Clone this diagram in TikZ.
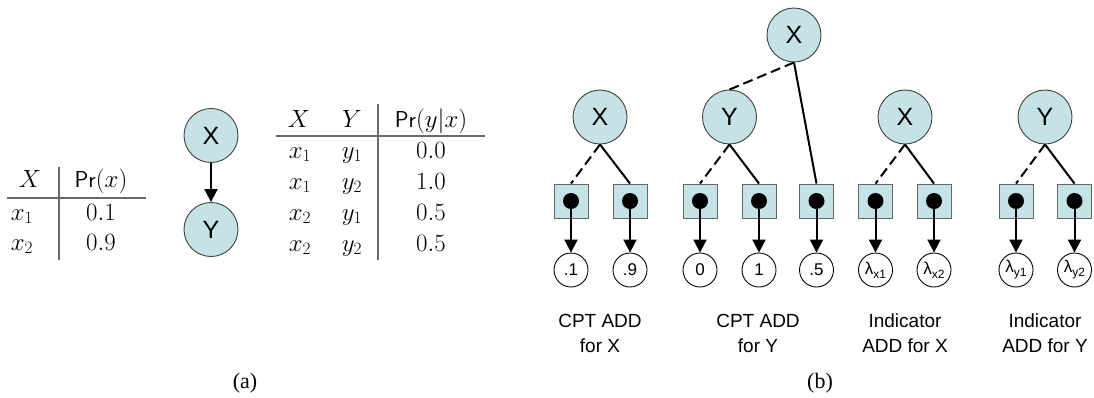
\documentclass[tikz,border=0pt]{standalone}
\usepackage{fontspec}
\newfontfamily\arial{Liberation Sans}
\newfontfamily\timesf{Liberation Serif}
\usetikzlibrary{arrows.meta}
\definecolor{nodefill}{RGB}{197,227,230}
\definecolor{rulegray}{RGB}{105,105,105}
\begin{document}
\begin{tikzpicture}[x=1pt,y=-1pt,
  bn/.style={circle,draw=black!75,line width=0.9pt,fill=nodefill,minimum size=54pt,inner sep=0pt,font=\arial\fontsize{25}{25}\selectfont},
  box/.style={rectangle,draw=black!60,line width=0.9pt,fill=nodefill,minimum size=34pt,inner sep=0pt},
  leaf/.style={circle,draw=black,line width=0.9pt,fill=white,minimum size=34pt,inner sep=0pt,font=\arial\fontsize{17}{17}\selectfont},
  dot/.style={circle,fill=black,minimum size=16pt,inner sep=0pt},
  edge/.style={line width=2pt},
  dedge/.style={line width=2pt,dash pattern=on 10pt off 5pt},
  arr/.style={line width=2pt,-{Triangle[length=13pt,width=13pt]}},
  tab/.style={font=\fontsize{23}{23}\selectfont,inner sep=0pt,anchor=base},
  capt/.style={font=\arial\fontsize{19}{25}\selectfont,align=center,inner sep=0pt},
  rulel/.style={draw=rulegray,line width=1.2pt},
  lab/.style={font=\timesf\fontsize{22}{22}\selectfont,inner sep=0pt,anchor=base}
]
\useasboundingbox (0,0) rectangle (1094,397);

% ---------- (a) left table
\node[tab] (lh1) at (30,187) {$X$};
\node[tab] (lh2) at (101,187) {$\mathsf{Pr}(x)$};
\node[tab] (lr1a) at (22,220) {$x_1$};
\node[tab] (lr1b) at (101,220) {$0.1$};
\node[tab] (lr2a) at (22,250) {$x_2$};
\node[tab] (lr2b) at (101,250) {$0.9$};
\coordinate (lvt) at (59,167); \coordinate (lvb) at (59,260);
\coordinate (lhl) at (7,198); \coordinate (lhr) at (146,198);
\draw[rulel] (lvt) -- (lvb);
\draw[rulel] (lhl) -- (lhr);

% ---------- (a) network
\node[bn] (ax) at (211,135.5) {X};
\node[bn] (ay) at (211,229.5) {Y};
\draw[arr] (ax) -- (ay);

% ---------- (a) right table
\node[tab] (rh1) at (299,127) {$X$};
\node[tab] (rh2) at (352,127) {$Y$};
\node[tab] (rh3) at (431,127) {$\mathsf{Pr}(y|x)$};
\node[tab] (r1a) at (300,158) {$x_1$};
\node[tab] (r1b) at (352,158) {$y_1$};
\node[tab] (r1c) at (431,158) {$0.0$};
\node[tab] (r2a) at (300,189) {$x_1$};
\node[tab] (r2b) at (352,189) {$y_2$};
\node[tab] (r2c) at (431,189) {$1.0$};
\node[tab] (r3a) at (300,220) {$x_2$};
\node[tab] (r3b) at (352,220) {$y_1$};
\node[tab] (r3c) at (431,220) {$0.5$};
\node[tab] (r4a) at (300,251) {$x_2$};
\node[tab] (r4b) at (352,251) {$y_2$};
\node[tab] (r4c) at (431,251) {$0.5$};
\coordinate (rvt) at (378,104); \coordinate (rvb) at (378,260);
\coordinate (rhl) at (276,136); \coordinate (rhr) at (485,136);
\draw[rulel] (rvt) -- (rvb);
\draw[rulel] (rhl) -- (rhr);

\node[lab] (la) at (245,388) {(a)};

% ---------- (b) ADDs
\node[bn] (tx) at (794,35) {X};
\node[bn] (cx) at (600,117) {X};
\node[bn] (cy) at (729.5,117) {Y};
\node[bn] (ix) at (905,117) {X};
\node[bn] (iy) at (1045,117) {Y};

\foreach \n/\x in {s1/571,s2/630,s3/700,s4/759,s5/816.5,s6/875.5,s7/934,s8/1016,s9/1074.5}{
  \node[box] (\n) at (\x,201) {};
}
\node[leaf] (l1) at (571,270) {.1};
\node[leaf] (l2) at (630,270) {.9};
\node[leaf] (l3) at (700,270) {0};
\node[leaf] (l4) at (759,270) {1};
\node[leaf] (l5) at (816.5,270) {.5};
\node[leaf] (l6) at (875.5,270) {λ\raisebox{-4pt}{\fontsize{12}{12}\selectfont x1}};
\node[leaf] (l7) at (934,270) {λ\raisebox{-4pt}{\fontsize{12}{12}\selectfont x2}};
\node[leaf] (l8) at (1016,270) {λ\raisebox{-4pt}{\fontsize{12}{12}\selectfont y1}};
\node[leaf] (l9) at (1074.5,270) {λ\raisebox{-4pt}{\fontsize{12}{12}\selectfont y2}};

\draw[dedge] (cx.south) -- (s1.north);
\draw[edge] (cx.south) -- (s2.north);
\draw[dedge] (cy.south) -- (s3.north);
\draw[edge] (cy.south) -- (s4.north);
\draw[dedge] (tx.south) -- (cy.north);
\draw[edge] (tx.south) -- (s5.north);
\draw[dedge] (ix.south) -- (s6.north);
\draw[edge] (ix.south) -- (s7.north);
\draw[dedge] (iy.south) -- (s8.north);
\draw[edge] (iy.south) -- (s9.north);

\foreach \i in {1,...,9}{
  \draw[arr] (s\i.center) -- (l\i.north);
  \node[dot] (d\i) at (s\i.center) {};
}

\node[capt] (c1) at (600,333) {CPT ADD\\for X};
\node[capt] (c2) at (758,333) {CPT ADD\\for Y};
\node[capt] (c3) at (905,333) {Indicator\\ADD for X};
\node[capt] (c4) at (1045,333) {Indicator\\ADD for Y};

\node[lab] (lb) at (820,388) {(b)};
\end{tikzpicture}
\end{document}
